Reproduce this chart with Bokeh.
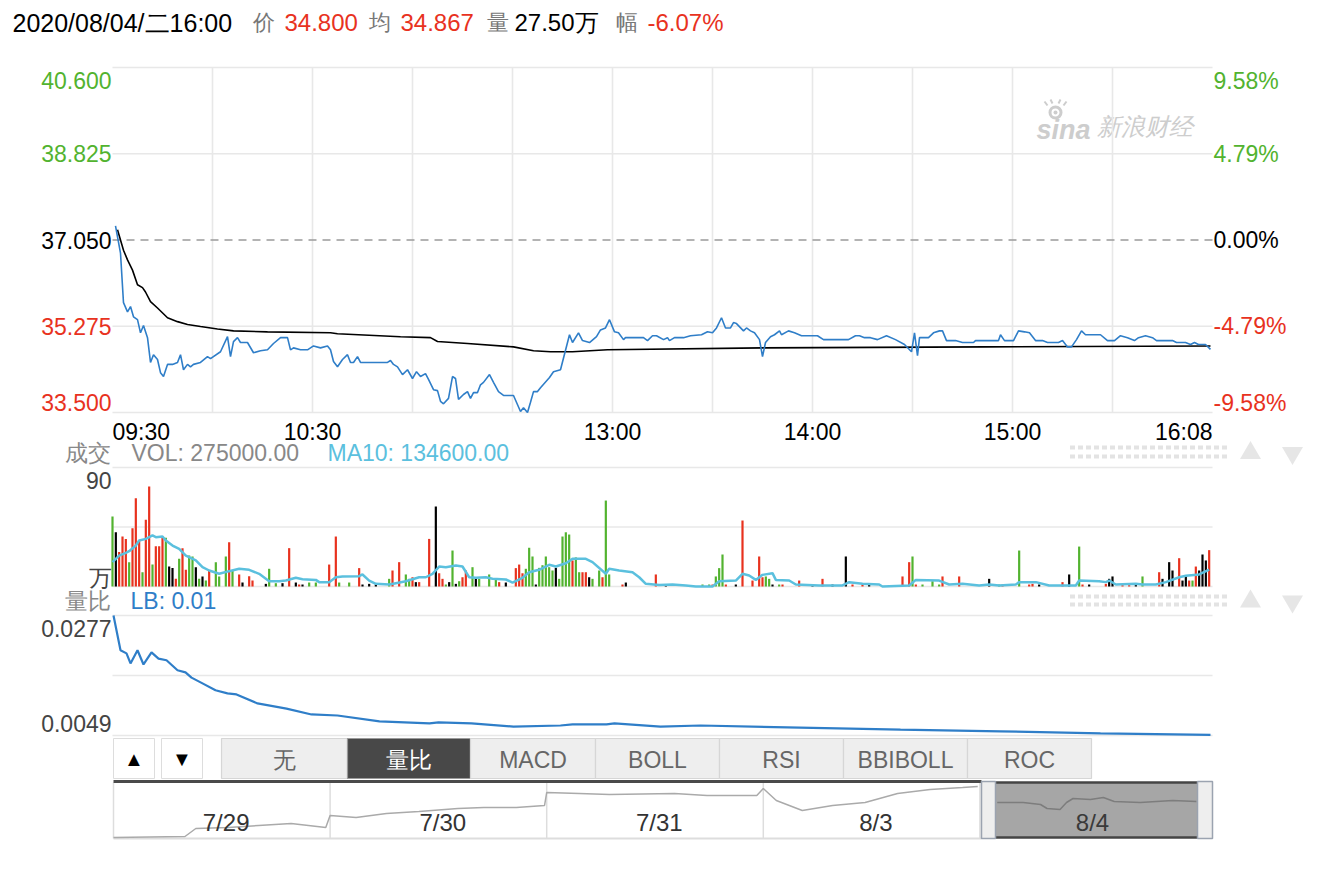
from bokeh.plotting import figure
from bokeh.models import Range1d
from bokeh.core.properties import value
from bokeh.embed import file_html
from bokeh.resources import INLINE

# ---------------------------------------------------------------- data
header_date = "2020/08/04/二16:00"
last_price = 34.800
avg_price = 34.867
last_volume = "27.50万"
change_pct = -6.07
prev_close = 37.05
price_ticks = [33.500, 35.275, 37.050, 38.825, 40.600]

time_ticks = [0, 60, 150, 210, 270, 330]
time_labels = ["09:30", "10:30", "13:00", "14:00", "15:00", "16:08"]
grid_minutes = [30, 60, 90, 120, 150, 180, 210, 240, 270, 300]

price_t = [0.9, 2.4, 3.3, 4.5, 5.4, 6.3, 7.5, 8.4, 9.3, 10.5,
           11.4, 12.3, 13.5, 14.4, 15.3, 16.5, 18.0, 19.5, 20.4, 21.3,
           22.5, 23.4, 24.3, 26.4, 28.5, 29.4, 32.4, 34.5, 35.4, 36.3,
           37.5, 38.4, 40.5, 42.3, 44.4, 46.5, 48.3, 50.4, 52.5, 53.4,
           54.3, 56.4, 58.5, 60.3, 62.4, 64.5, 65.4, 66.3, 67.5, 69.0,
           70.5, 71.4, 72.3, 73.5, 74.4, 76.5, 82.5, 83.4, 84.3, 85.5,
           87.0, 88.5, 90.0, 91.2, 92.4, 93.9, 94.8, 96.3, 97.5, 98.4,
           99.3, 100.8, 102.0, 102.9, 103.8, 105.3, 106.5, 107.4, 108.3, 109.5,
           110.4, 111.3, 113.1, 114.3, 115.8, 117.3, 120.3, 122.4, 123.3, 124.5,
           125.4, 126.3, 127.5, 128.4, 131.1, 132.3, 134.4, 137.1, 138.0, 139.8,
           141.0, 143.1, 145.2, 146.4, 147.9, 149.1, 150.6, 151.8, 153.3, 153.9,
           159.3, 160.5, 162.0, 163.2, 165.3, 166.5, 167.1, 168.6, 171.3, 173.4,
           176.7, 178.5, 180.0, 181.2, 182.7, 183.9, 185.4, 186.3, 187.2, 189.3,
           190.2, 191.4, 192.6, 194.1, 195.0, 195.9, 197.4, 198.6, 200.1, 200.7,
           202.8, 204.6, 206.7, 211.5, 213.3, 215.4, 220.8, 222.9, 224.1, 225.6,
           227.4, 229.5, 232.2, 234.9, 237.6, 239.7, 240.6, 241.5, 242.1, 244.8,
           246.3, 248.1, 249.0, 250.2, 252.9, 255.0, 258.3, 258.9, 265.8, 266.4,
           267.6, 270.3, 271.8, 273.6, 275.1, 276.9, 279.0, 280.5, 283.8, 285.0,
           286.5, 287.7, 289.2, 290.7, 291.9, 296.4, 298.5, 300.6, 302.4, 304.5,
           306.6, 307.8, 309.9, 312.0, 313.2, 318.0, 319.2, 321.9, 323.4, 324.6,
           325.8, 327.9, 329.4]
price = [37.34, 36.78, 35.76, 35.57, 35.68, 35.47, 35.41, 35.14, 35.29, 35.04,
         34.53, 34.69, 34.59, 34.32, 34.24, 34.49, 34.49, 34.53, 34.69, 34.38,
         34.49, 34.44, 34.49, 34.53, 34.65, 34.61, 34.75, 35.06, 34.65, 34.96,
         35.04, 34.94, 34.94, 34.73, 34.77, 34.79, 34.92, 35.04, 35.04, 34.79,
         34.83, 34.79, 34.79, 34.87, 34.83, 34.87, 34.79, 34.55, 34.44, 34.59,
         34.69, 34.53, 34.53, 34.65, 34.53, 34.53, 34.53, 34.57, 34.49, 34.44,
         34.28, 34.38, 34.20, 34.34, 34.24, 34.30, 34.18, 33.97, 33.95, 33.73,
         33.68, 33.79, 34.24, 34.20, 33.77, 33.87, 33.93, 33.79, 33.91, 33.91,
         34.07, 34.12, 34.28, 34.12, 33.93, 33.85, 33.85, 33.52, 33.60, 33.50,
         33.71, 33.93, 33.93, 34.01, 34.22, 34.34, 34.38, 35.10, 34.94, 35.14,
         34.98, 34.94, 35.06, 35.20, 35.24, 35.41, 35.16, 35.14, 35.00, 35.04,
         35.04, 34.98, 35.08, 35.08, 35.00, 35.04, 34.98, 35.04, 35.04, 35.08,
         35.10, 35.16, 35.14, 35.24, 35.45, 35.24, 35.24, 35.35, 35.33, 35.18,
         35.24, 35.18, 35.14, 35.00, 34.65, 34.94, 35.06, 35.10, 35.18, 35.10,
         35.18, 35.14, 35.08, 35.08, 35.00, 35.00, 35.00, 35.08, 35.08, 35.04,
         35.04, 35.00, 35.08, 35.00, 34.90, 34.75, 35.14, 34.67, 35.04, 35.04,
         35.14, 35.18, 35.18, 34.98, 34.98, 34.94, 34.94, 34.98, 34.98, 35.10,
         34.98, 34.98, 35.18, 35.16, 35.14, 34.98, 34.98, 34.94, 34.94, 34.98,
         34.85, 34.85, 35.00, 35.18, 35.10, 35.10, 34.98, 34.98, 35.08, 35.04,
         34.98, 35.04, 35.08, 35.04, 34.98, 34.98, 34.94, 34.94, 34.90, 34.94,
         34.90, 34.90, 34.80]

avg_t = [1.5, 3.3, 4.5, 6.0, 7.5, 9.0, 9.9, 11.4, 13.5, 16.5,
         19.5, 22.5, 26.4, 31.5, 36.3, 46.5, 65.4, 67.5, 86.4, 95.4,
         97.5, 106.5, 120.3, 126.3, 131.4, 138.0, 148.5, 195.0, 262.0, 329.4]
avg = [37.26, 36.84, 36.64, 36.43, 36.13, 36.07, 35.98, 35.78, 35.65, 35.45,
       35.37, 35.31, 35.27, 35.22, 35.18, 35.16, 35.14, 35.12, 35.06, 35.04,
       34.96, 34.92, 34.85, 34.77, 34.75, 34.75, 34.79, 34.83, 34.85, 34.87]

# volume in units of 10k shares (万); direction 1 = up, -1 = down, 0 = flat
vol_max = 90
vol_last = 275000.00
ma10_last = 134600.00
vol_t = [0, 1, 2, 3, 4, 5, 6, 7, 8, 9,
         10, 11, 12, 13, 14, 15, 16, 17, 18, 19,
         20, 21, 22, 23, 24, 25, 26, 27, 28, 29,
         31, 32, 34, 35, 36, 38, 39, 41, 42, 46,
         47, 49, 51, 53, 55, 56, 57, 59, 61, 65,
         67, 68, 71, 74, 75, 77, 79, 83, 84, 86,
         88, 89, 90, 91, 92, 95, 97, 98, 99, 100,
         101, 102, 103, 104, 105, 106, 108, 109, 110, 113,
         115, 116, 118, 121, 122, 123, 124, 125, 126, 127,
         128, 129, 130, 131, 132, 133, 134, 135, 136, 137,
         138, 139, 140, 141, 142, 143, 144, 146, 147, 148,
         149, 153, 154, 163, 166, 177, 179, 180, 181, 182,
         183, 184, 187, 189, 192, 194, 195, 196, 197, 198,
         200, 201, 206, 210, 213, 216, 220, 222, 225, 227,
         237, 239, 240, 241, 243, 246, 248, 249, 254, 263,
         266, 267, 272, 275, 276, 278, 285, 287, 290, 291,
         293, 298, 299, 300, 303, 305, 307, 309, 314, 315,
         317, 318, 320, 321, 322, 323, 324, 325, 326, 327,
         328, 329]
vol = [52.9, 41.0, 26.0, 37.8, 36.0, 18.4, 44.0, 66.8, 34.8, 10.8,
       50.4, 75.6, 16.6, 30.5, 30.5, 37.3, 36.8, 15.1, 13.9, 5.8,
       20.9, 29.0, 12.6, 23.4, 22.7, 14.6, 5.8, 7.6, 4.5, 12.1,
       18.4, 7.6, 22.7, 33.5, 12.1, 9.1, 3.0, 7.8, 4.5, 2.0,
       13.4, 2.5, 2.5, 29.0, 3.0, 1.5, 1.5, 3.0, 3.0, 16.6,
       37.8, 3.0, 3.0, 13.9, 1.5, 2.0, 1.5, 5.8, 12.1, 18.4,
       9.1, 5.8, 7.0, 3.3, 3.3, 36.0, 60.5, 10.0, 5.8, 1.5,
       3.3, 27.2, 2.0, 4.0, 7.0, 12.1, 14.6, 7.0, 5.8, 9.1,
       5.8, 3.3, 3.0, 13.9, 16.6, 10.0, 13.4, 29.3, 22.7, 1.5,
       14.1, 16.1, 22.7, 14.6, 12.1, 14.1, 5.8, 37.8, 41.0, 39.3,
       19.7, 22.0, 10.8, 10.8, 10.8, 7.0, 5.8, 12.1, 7.0, 65.0,
       9.1, 1.5, 3.0, 9.1, 1.0, 1.5, 1.5, 1.5, 7.6, 13.9,
       24.2, 1.5, 1.5, 49.9, 4.5, 22.7, 7.0, 7.6, 5.8, 1.5,
       1.5, 1.5, 4.5, 1.5, 5.8, 1.5, 22.7, 1.5, 1.5, 1.5,
       7.6, 18.4, 22.7, 1.5, 1.5, 4.0, 1.5, 7.6, 7.6, 5.8,
       1.5, 1.5, 27.2, 1.5, 2.0, 1.5, 3.3, 9.1, 30.2, 1.5,
       1.5, 2.0, 5.8, 7.6, 1.0, 1.0, 1.5, 7.6, 10.8, 5.8,
       18.4, 12.1, 21.4, 4.5, 7.6, 4.5, 4.5, 15.1, 12.1, 24.2,
       19.7, 27.5]
vol_dir = [-1, 0, 1, 1, 1, -1, 1, 1, 1, -1,
           1, 1, -1, 1, 1, 1, -1, 0, 0, 1,
           -1, 1, 1, -1, -1, 0, -1, 0, -1, 1,
           -1, -1, -1, 1, -1, 1, 0, 1, 1, 0,
           -1, -1, 0, 1, 0, 1, 0, -1, -1, 1,
           1, -1, -1, 1, 0, 0, 0, -1, 1, 1,
           -1, -1, 1, 0, 1, 1, 0, 1, 1, -1,
           0, -1, 0, -1, 1, 1, -1, 0, -1, -1,
           -1, 1, 0, 1, 1, 1, -1, -1, -1, 0,
           -1, -1, -1, -1, -1, 0, -1, -1, -1, -1,
           1, -1, -1, 1, 1, 0, -1, -1, 1, -1,
           -1, 1, 0, 1, 0, -1, -1, 1, -1, -1,
           -1, 1, 0, 1, 1, 1, 1, -1, -1, 0,
           -1, 1, 1, 0, 1, 0, 0, 1, 1, 0,
           1, 1, -1, 1, -1, -1, -1, 1, 1, 0,
           -1, 1, -1, 1, 1, 0, 1, 0, -1, 1,
           0, 1, 0, 0, 1, 1, 0, -1, 1, 0,
           0, 0, 1, 0, 0, 1, -1, 1, 0, 0,
           0, 1]

ma10_t = [0, 2, 4, 5, 7, 8, 10, 12, 13, 15,
          16, 18, 20, 22, 25, 27, 29, 32, 35, 38,
          41, 44, 47, 50, 52, 55, 57, 61, 62, 65,
          67, 69, 74, 75, 77, 79, 83, 85, 88, 92,
          94, 96, 98, 100, 103, 105, 107, 109, 112, 114,
          118, 120, 123, 125, 128, 131, 133, 136, 138, 142,
          144, 148, 149, 152, 156, 158, 160, 164, 168, 172,
          175, 180, 182, 187, 189, 191, 193, 195, 198, 199,
          203, 205, 212, 219, 221, 225, 230, 231, 239, 241,
          248, 251, 255, 260, 263, 266, 271, 272, 277, 281,
          289, 290, 296, 298, 299, 301, 307, 309, 313, 316,
          320, 322, 326, 329]
ma10 = [18.4, 23.4, 25.5, 26.7, 31.0, 34.8, 36.0, 38.6, 37.3, 37.8,
        34.8, 31.0, 28.5, 23.4, 19.7, 14.6, 12.1, 9.6, 11.6, 13.4,
        12.6, 9.6, 4.0, 4.0, 4.5, 6.6, 5.5, 5.0, 3.3, 3.3,
        7.0, 7.6, 7.8, 9.1, 4.5, 2.0, 1.5, 2.5, 4.0, 7.0,
        7.0, 9.6, 15.1, 14.6, 15.9, 15.1, 7.0, 6.6, 7.0, 5.8,
        5.3, 3.0, 6.6, 10.8, 12.6, 16.4, 15.1, 17.6, 20.9, 20.9,
        18.4, 9.6, 13.4, 12.1, 10.8, 7.0, 2.0, 1.2, 1.5, 0.8,
        0.0, 0.0, 4.0, 4.5, 9.6, 8.3, 5.0, 8.8, 10.1, 5.0,
        4.5, 1.5, 0.8, 0.8, 3.3, 2.0, 1.5, 0.0, 0.8, 5.0,
        4.5, 1.5, 2.0, 0.8, 1.5, 0.8, 1.5, 3.3, 3.3, 0.8,
        0.8, 4.5, 4.0, 3.3, 4.5, 1.5, 2.0, 1.5, 1.5, 3.3,
        7.0, 8.1, 9.1, 12.8]

lb_top, lb_bottom = 0.0277, 0.0049
lb_last = 0.01
lb_t = [0.3, 2.4, 4.2, 5.4, 7.5, 9.3, 11.7, 13.8, 16.2, 19.5,
        21.9, 23.7, 27.0, 30.9, 34.5, 37.2, 43.5, 52.2, 59.7, 67.5,
        80.1, 95.1, 97.8, 107.7, 120.3, 134.4, 138.0, 148.2, 150.6, 164.4,
        176.4, 236.4, 266.4, 296.4, 329.4]
lb = [0.0277, 0.0211, 0.0205, 0.0186, 0.0211, 0.0184, 0.0207, 0.0195, 0.0192, 0.0173,
      0.0169, 0.0159, 0.0148, 0.0135, 0.0129, 0.0127, 0.0110, 0.0100, 0.0089, 0.0087,
      0.0076, 0.0072, 0.0074, 0.0072, 0.0066, 0.0068, 0.0070, 0.0070, 0.0072, 0.0066,
      0.0068, 0.0060, 0.0057, 0.0053, 0.0050]

tabs = ["无", "量比", "MACD", "BOLL", "RSI", "BBIBOLL", "ROC"]
active_tab = "量比"

nav_days = ["7/29", "7/30", "7/31", "8/3", "8/4"]
nav_selected = 4
nav_t = [0.0, 0.33, 0.38, 0.53, 0.67, 0.82, 0.98,
         1.0, 1.12, 1.26, 1.41, 1.59, 1.71, 1.86, 1.99,
         2.0, 2.15, 2.29, 2.59, 2.74, 2.97,
         3.0, 3.06, 3.18, 3.32, 3.47, 3.62, 3.77, 3.92, 3.99,
         4.08, 4.20, 4.28, 4.31, 4.37, 4.40, 4.43, 4.51, 4.57, 4.62, 4.74, 4.89, 5.0]
nav_price = [29.91, 30.05, 31.17, 31.31, 31.59, 31.87, 31.31,
             32.99, 32.71, 33.27, 33.55, 33.97, 34.11, 34.11, 34.39,
             36.21, 36.07, 35.93, 36.07, 35.79, 35.79,
             36.77, 35.09, 33.69, 34.39, 34.81, 36.07, 36.63, 36.91, 37.05,
             34.81, 34.81, 34.53, 33.97, 33.83, 34.81, 35.37, 35.23, 35.51, 34.95, 34.81, 35.09, 34.95]

# ---------------------------------------------------------------- layout (page pixels)
W, H = 1320, 854
M = 0   # bokeh's page template has no body margin
PX0, PX1 = M, M + W
PY0, PY1 = M, M + H
PLOT_L, PLOT_R = 112, 1212
PRICE_TOP, PRICE_BOT = 67, 412
VOL_TOP, VOL_BOT = 467, 586
LB_TOP, LB_BOT = 615, 735
NAV_L, NAV_DAY_W = 113, 216.6
NAV_TOP, NAV_BOT = 782, 837
NAV_P_HI_PX, NAV_P_LO_PX = 786, 837
NAV_P_HI, NAV_P_LO = 37.05, 29.91

FONT = "Liberation Sans"
RED = "#e8321e"
GREEN = "#52b32f"
BLUE = "#2f7ec8"
CYAN = "#5bc0de"
LABEL_GRAY = "#777777"
AXIS_GRAY = "#444444"
GRID = "#e8e8e8"
WM = "#cdcdcd"


def lin(va, pa, vb, pb):
    k = (vb - va) / (pb - pa)
    return lambda px: va + (px - pa) * k


def xr(va, pa, vb, pb):
    f = lin(va, pa, vb, pb)
    return Range1d(f(PX0), f(PX1))


def yr(va, pa, vb, pb):
    f = lin(va, pa, vb, pb)
    return Range1d(f(PY1), f(PY0))


T0, T1 = time_ticks[0], time_ticks[-1]
p = figure(width=W, height=H, output_backend="svg", toolbar_location=None,
           x_axis_type=None, y_axis_type=None, min_border=0,
           x_range=xr(T0, PLOT_L, T1, PLOT_R),
           y_range=yr(price_ticks[0], PRICE_BOT, price_ticks[-1], PRICE_TOP))
p.outline_line_color = None
p.extra_x_ranges = {"px": Range1d(PX0, PX1),
                    "nav": xr(0, NAV_L, 1, NAV_L + NAV_DAY_W)}
p.extra_y_ranges = {"py": Range1d(PY1, PY0),
                    "vol": yr(0, VOL_BOT, vol_max, VOL_TOP),
                    "lb": yr(lb_bottom, LB_BOT, lb_top, LB_TOP),
                    "nav": yr(NAV_P_LO, NAV_P_LO_PX, NAV_P_HI, NAV_P_HI_PX)}


def put(xs, ys, texts, color="#000000", size=23, align="left", baseline="middle",
        xn="px", yn="py", style="normal", yoff=0):
    p.text(x=list(xs), y=list(ys), text=list(texts), text_color=color,
           text_font=value(FONT), text_font_size=f"{size}px", text_align=align,
           text_baseline=baseline, text_font_style=style, y_offset=yoff,
           x_range_name=xn, y_range_name=yn)


def sign_color(v):
    if abs(v - prev_close) < 1e-9:
        return "#000000"
    return GREEN if v > prev_close else RED


# ---------------------------------------------------------------- header
put([12], [22], [header_date], size=25)
put([252, 368, 486, 615], [22] * 4, ["价", "均", "量", "幅"], color=LABEL_GRAY, size=22)
put([284, 400, 514, 647], [22] * 4,
    [f"{last_price:.3f}", f"{avg_price:.3f}", last_volume, f"{change_pct:.2f}%"],
    color=[RED, RED, "#000000", RED], size=24)

# ---------------------------------------------------------------- watermark
p.scatter(x=[1055], y=[112], marker="circle", size=11, fill_color=None, line_color=WM,
          line_width=3, x_range_name="px", y_range_name="py")
p.scatter(x=[1055], y=[112], marker="circle", size=4, fill_color=WM, line_color=None,
          x_range_name="px", y_range_name="py")
p.segment(x0=[1047, 1052, 1058, 1063], y0=[105, 103, 103, 105],
          x1=[1044, 1050, 1060, 1066], y1=[101, 99, 99, 101], line_color=WM, line_width=2,
          x_range_name="px", y_range_name="py")
put([1036], [129], ["sina"], color=WM, size=27, style="bold italic")
put([1096], [126], ["新浪财经"], color=WM, size=24, style="italic")

# ---------------------------------------------------------------- price panel
gl = [t for t in price_ticks if abs(t - prev_close) > 1e-9]
p.segment(x0=[T0] * len(gl), x1=[T1] * len(gl), y0=gl, y1=gl, line_color=GRID, line_width=1.6)
p.segment(x0=grid_minutes, x1=grid_minutes, y0=[price_ticks[0]] * len(grid_minutes),
          y1=[price_ticks[-1]] * len(grid_minutes), line_color=GRID, line_width=1.6)
p.segment(x0=[T0], x1=[T1], y0=[prev_close], y1=[prev_close], line_color="#9a9a9a",
          line_width=1.6, line_dash="8 6")

p.line(avg_t, avg, line_color="#000000", line_width=1.6)
p.line(price_t, price, line_color=BLUE, line_width=1.6)

n = len(price_ticks)
yoffs = [13 if i == n - 1 else (-10 if i == 0 else 0) for i in range(n)]
put([PLOT_L - 1] * n, price_ticks, [f"{t:.3f}" for t in price_ticks],
    color=[sign_color(t) for t in price_ticks], align="right", yn="default", yoff=yoffs)
put([PLOT_R + 1] * n, price_ticks, [f"{(t - prev_close) / prev_close * 100:.2f}%" for t in price_ticks],
    color=[sign_color(t) for t in price_ticks], align="left", yn="default", yoff=yoffs)

# time labels
put(time_ticks[:1], [431], time_labels[:1], align="left", xn="default")
put(time_ticks[1:-1], [431] * (len(time_ticks) - 2), time_labels[1:-1], align="center", xn="default")
put(time_ticks[-1:], [431], time_labels[-1:], align="right", xn="default")

# ---------------------------------------------------------------- volume panel
put([64, 131, 327], [452] * 3, ["成交", f"VOL: {vol_last:.2f}", f"MA10: {ma10_last:.2f}"],
    color=["#888888", "#888888", CYAN], size=23)
vlev = [0, vol_max / 2, vol_max]
p.segment(x0=[T0] * 3, x1=[T1] * 3, y0=vlev, y1=vlev, line_color=GRID, line_width=1.6,
          y_range_name="vol")
dir_color = {1: RED, -1: GREEN, 0: "#000000"}
p.vbar(x=vol_t, width=0.66, top=vol, bottom=0, fill_color=[dir_color[d] for d in vol_dir],
       line_color=None, y_range_name="vol")
p.line(ma10_t, ma10, line_color=CYAN, line_width=2.5, y_range_name="vol")
put([PLOT_L - 1], [vol_max], [f"{vol_max}"], color=AXIS_GRAY, align="right", yn="vol", yoff=13)
put([PLOT_L - 1], [0], ["万"], color=AXIS_GRAY, align="right", yn="vol", yoff=-9)

# ---------------------------------------------------------------- LB panel
put([64, 130], [600] * 2, ["量比", f"LB: {lb_last:.2f}"], color=["#888888", BLUE], size=23)
llev = [lb_bottom, (lb_bottom + lb_top) / 2, lb_top]
p.segment(x0=[T0] * 3, x1=[T1] * 3, y0=llev, y1=llev, line_color=GRID, line_width=1.6,
          y_range_name="lb")
p.line(lb_t, lb, line_color=BLUE, line_width=2.2, y_range_name="lb")
put([PLOT_L - 1], [lb_top], [f"{lb_top:.4f}"], color=AXIS_GRAY, align="right", yn="lb", yoff=13)
put([PLOT_L - 1], [lb_bottom], [f"{lb_bottom:.4f}"], color=AXIS_GRAY, align="right", yn="lb", yoff=-12)

# ---------------------------------------------------------------- right-side decorations
for rows in ([447, 456], [596, 604]):
    xs = [1072 + 8 * i for i in range(20)]
    for ry in rows:
        p.rect(x=xs, y=[ry] * len(xs), width=5, height=4, fill_color="#e3e3e3",
               line_color=None, x_range_name="px", y_range_name="py")
    cy = (rows[0] + rows[1]) / 2 + 1
    p.scatter(x=[1250], y=[cy], marker="triangle", size=21, fill_color="#e6e6e6",
              line_color=None, x_range_name="px", y_range_name="py")
    p.scatter(x=[1292], y=[cy], marker="inverted_triangle", size=21, fill_color="#e6e6e6",
              line_color=None, x_range_name="px", y_range_name="py")

# ---------------------------------------------------------------- tab strip
TAB_T, TAB_B = 738, 778
p.quad(left=[113, 161], right=[154, 202], top=[TAB_T] * 2, bottom=[TAB_B] * 2,
       fill_color="#ffffff", line_color="#dddddd", line_width=1,
       x_range_name="px", y_range_name="py")
put([133.5, 181.5], [758, 758], ["▲", "▼"], size=20, align="center")
edges = [221, 347, 470, 595, 719, 843, 967, 1091]
sel = [t == active_tab for t in tabs]
p.quad(left=edges[:-1], right=edges[1:], top=[TAB_T] * len(tabs), bottom=[TAB_B] * len(tabs),
       fill_color=["#484848" if s else "#eeeeee" for s in sel],
       line_color=["#9a9a9a" if s else "#d6d6d6" for s in sel], line_width=1.2,
       x_range_name="px", y_range_name="py")
put([(a + b) / 2 for a, b in zip(edges[:-1], edges[1:])], [759] * len(tabs), tabs,
    color=["#ffffff" if s else "#666666" for s in sel], size=23, align="center")

# ---------------------------------------------------------------- navigator
nd = len(nav_days)
p.segment(x0=[NAV_L], x1=[NAV_L], y0=[NAV_TOP], y1=[NAV_BOT + 1], line_color="#dddddd",
          line_width=1.5, x_range_name="px", y_range_name="py")
p.segment(x0=list(range(1, nd)), x1=list(range(1, nd)), y0=[NAV_P_HI + 0.6] * (nd - 1),
          y1=[NAV_P_LO - 0.15] * (nd - 1), line_color="#dddddd", line_width=1.5,
          x_range_name="nav", y_range_name="nav")
p.segment(x0=[NAV_L], x1=[981], y0=[NAV_BOT + 1], y1=[NAV_BOT + 1], line_color="#dddddd",
          line_width=2, x_range_name="px", y_range_name="py")
p.segment(x0=[NAV_L], x1=[981], y0=[NAV_TOP - 1], y1=[NAV_TOP - 1], line_color="#4a4a4a",
          line_width=3, x_range_name="px", y_range_name="py")
# selected day box
p.quad(left=[995], right=[1197], top=[NAV_TOP], bottom=[NAV_BOT], fill_color="#a6a6a6",
       line_color=None, x_range_name="px", y_range_name="py")
p.segment(x0=[995, 995], x1=[1197, 1197], y0=[NAV_TOP, NAV_BOT], y1=[NAV_TOP, NAV_BOT],
          line_color="#444444", line_width=2.5, x_range_name="px", y_range_name="py")
prev_t = [t for t in nav_t if t <= nav_selected]
prev_p = [v for t, v in zip(nav_t, nav_price) if t <= nav_selected]
cur_t = [t for t in nav_t if t > nav_selected]
cur_p = [v for t, v in zip(nav_t, nav_price) if t > nav_selected]
p.line(prev_t, prev_p, line_color="#aaaaaa", line_width=1.5, x_range_name="nav", y_range_name="nav")
p.line(cur_t, cur_p, line_color="#7d7d7d", line_width=1.5, x_range_name="nav", y_range_name="nav")
p.quad(left=[981, 1197], right=[995, 1212], top=[NAV_TOP - 1] * 2, bottom=[NAV_BOT + 1] * 2,
       fill_color="#eeeeee", line_color="#9ba3b0", line_width=1.5,
       x_range_name="px", y_range_name="py")
put([i + 0.52 for i in range(nd)], [822] * nd, nav_days,
    color=["#333333"] * (nd - 1) + ["#3a3a3a"], size=24, align="center", xn="nav")

open("out.html", "w").write(file_html(p, INLINE))
